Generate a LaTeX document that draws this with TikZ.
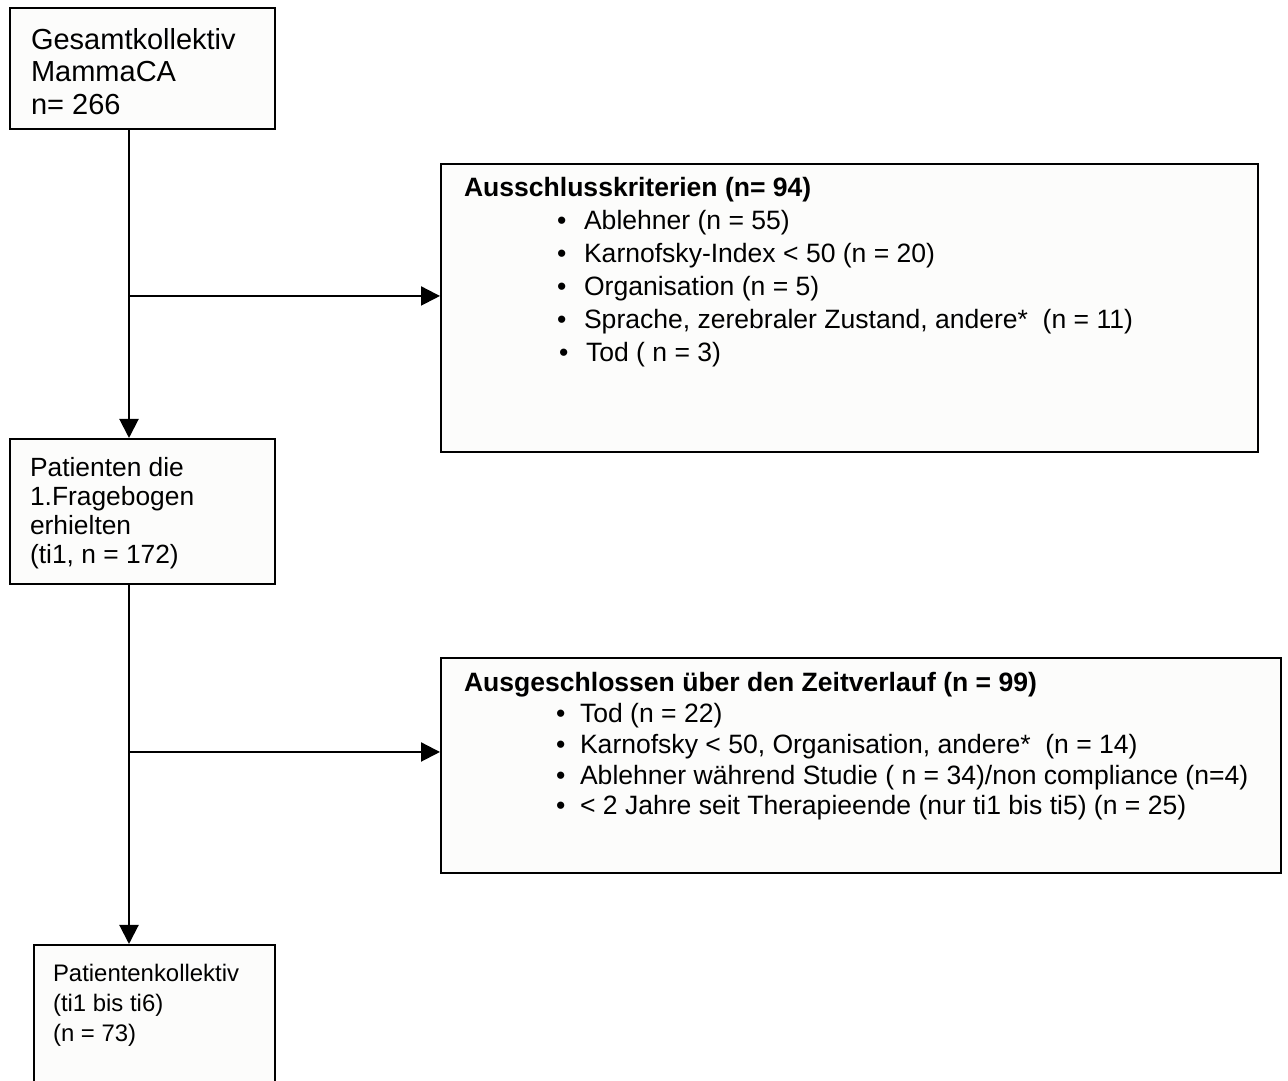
\documentclass[tikz,border=0pt]{standalone}
\usepackage{fontspec}
\setmainfont{Liberation Sans}
\usepackage{tikz}
\usetikzlibrary{arrows.meta,positioning}
\definecolor{boxfill}{HTML}{FCFCFB}

\begin{document}
\begin{tikzpicture}[>={Triangle[length=0.19cm,width=0.19cm]}, line width=0.6pt,
		kasten/.style={draw, fill=boxfill, rectangle, anchor=north west, inner sep=0pt},
		txt/.style={align=left, inner sep=0pt, anchor=north west}]
			\useasboundingbox (0,0) rectangle (12.88,10.81);
			\clip (0,0) rectangle (12.88,10.81);

			% --- Kästen links ---
			\node[kasten, minimum width=2.65cm, minimum height=1.21cm] (gesamt) at (0.09, 10.74) {};
			\node[kasten, minimum width=2.65cm, minimum height=1.45cm] (pat) at (0.09, 6.43) {};
			\node[kasten, minimum width=2.41cm, minimum height=1.60cm] (kollektiv) at (0.33, 1.37) {};

			% --- Kästen rechts ---
			\node[kasten, minimum width=8.17cm, minimum height=2.88cm] (ausschluss) at (4.40, 9.18) {};
			\node[kasten, minimum width=8.40cm, minimum height=2.15cm] (zeitverlauf) at (4.40, 4.24) {};

			% --- Texte ---
			\node[txt, font=\fontsize{8.25}{9.25}\selectfont, below right=0.20cm and 0.21cm of gesamt.north west] (gesamttxt)
			{Gesamtkollektiv\\MammaCA\\n= 266};
			\node[txt, font=\fontsize{7.5}{8.25}\selectfont, below right=0.18cm and 0.20cm of pat.north west] (pattxt)
			{Patienten die\\1.Fragebogen\\erhielten\\(ti1, n = 172)};
			\node[txt, font=\fontsize{6.8}{8.5}\selectfont, below right=0.19cm and 0.19cm of kollektiv.north west] (kollektivtxt)
			{Patientenkollektiv\\(ti1 bis ti6)\\(n = 73)};

			\node[txt, font=\fontsize{7.55}{9.4}\selectfont, below right=0.13cm and 0.23cm of ausschluss.north west] (ausschlusstxt)
			{\textbf{Ausschlusskriterien (n= 94)}\\
				\hspace*{0.93cm}\makebox[0.27cm][l]{•}Ablehner (n = 55)\\
				\hspace*{0.93cm}\makebox[0.27cm][l]{•}Karnofsky-Index < 50 (n = 20)\\
				\hspace*{0.93cm}\makebox[0.27cm][l]{•}Organisation (n = 5)\\
				\hspace*{0.93cm}\makebox[0.27cm][l]{•}Sprache, zerebraler Zustand, andere*\ \ (n = 11)\\
				\hspace*{0.95cm}\makebox[0.27cm][l]{•}Tod ( n = 3)};

			\node[txt, font=\fontsize{7.55}{8.8}\selectfont, below right=0.14cm and 0.23cm of zeitverlauf.north west] (zeitverlauftxt)
			{\textbf{Ausgeschlossen über den Zeitverlauf (n = 99)}\\
				\hspace*{0.92cm}\makebox[0.24cm][l]{•}Tod (n = 22)\\
				\hspace*{0.92cm}\makebox[0.24cm][l]{•}Karnofsky < 50, Organisation, andere*\ \ (n = 14)\\
				\hspace*{0.92cm}\makebox[0.24cm][l]{•}Ablehner während Studie ( n = 34)/non compliance (n=4)\\
				\hspace*{0.92cm}\makebox[0.24cm][l]{•}< 2 Jahre seit Therapieende (nur ti1 bis ti5) (n = 25)};

			% --- Verbindungen ---
			\coordinate (ast1) at (1.29, 7.85);
			\coordinate (ast2) at (1.29, 3.29);
			\draw[->] (gesamt.south -| ast1) -- (pat.north -| ast1);
			\draw[->] (ast1) -- (ast1 -| ausschluss.west);
			\draw[->] (pat.south -| ast2) -- (kollektiv.north -| ast2);
			\draw[->] (ast2) -- (ast2 -| zeitverlauf.west);
		\end{tikzpicture}
\end{document}
